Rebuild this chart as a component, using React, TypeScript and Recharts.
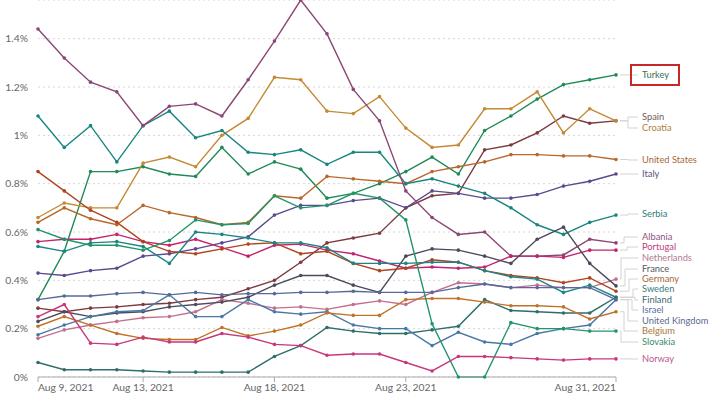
import { LineChart, Line, XAxis, YAxis, CartesianGrid } from 'recharts'

// daily values, Aug 9 – Aug 31 2021, in %
const days = [9, 10, 11, 12, 13, 14, 15, 16, 17, 18, 19, 20, 21, 22, 23, 24, 25, 26, 27, 28, 29, 30, 31]
const tickDays = [9, 13, 18, 23, 31]
const yTicks = [0, 0.2, 0.4, 0.6, 0.8, 1, 1.2, 1.4]

const turkey = [0.32, 0.52, 0.85, 0.85, 0.87, 0.84, 0.83, 0.95, 0.84, 0.89, 0.86, 0.74, 0.76, 0.8, 0.85, 0.91, 0.84, 1.02, 1.08, 1.15, 1.21, 1.23, 1.25]
const spain = [0.285, 0.27, 0.285, 0.29, 0.3, 0.305, 0.32, 0.33, 0.365, 0.4, 0.475, 0.555, 0.575, 0.595, 0.7, 0.75, 0.76, 0.94, 0.96, 1.01, 1.08, 1.05, 1.06]
const croatia = [0.66, 0.72, 0.7, 0.7, 0.885, 0.91, 0.87, 1.0, 1.07, 1.24, 1.23, 1.1, 1.09, 1.16, 1.03, 0.95, 0.96, 1.11, 1.11, 1.18, 1.01, 1.11, 1.06]
const unitedStates = [0.64, 0.7, 0.655, 0.63, 0.71, 0.68, 0.66, 0.63, 0.64, 0.75, 0.74, 0.83, 0.82, 0.81, 0.8, 0.85, 0.87, 0.89, 0.92, 0.92, 0.915, 0.915, 0.9]
const italy = [0.43, 0.42, 0.44, 0.45, 0.5, 0.51, 0.53, 0.555, 0.58, 0.67, 0.71, 0.71, 0.73, 0.74, 0.7, 0.77, 0.76, 0.74, 0.74, 0.755, 0.79, 0.81, 0.84]
const serbia = [1.08, 0.95, 1.04, 0.89, 1.04, 1.1, 0.99, 1.02, 0.93, 0.92, 0.94, 0.88, 0.93, 0.93, 0.8, 0.82, 0.79, 0.76, 0.7, 0.63, 0.59, 0.64, 0.67]
const albania = [1.44, 1.32, 1.22, 1.18, 1.04, 1.12, 1.13, 1.08, 1.23, 1.39, 1.56, 1.42, 1.19, 1.06, 0.77, 0.66, 0.59, 0.6, 0.5, 0.5, 0.505, 0.57, 0.555]
const portugal = [0.56, 0.57, 0.57, 0.59, 0.56, 0.545, 0.57, 0.535, 0.5, 0.545, 0.55, 0.525, 0.51, 0.48, 0.45, 0.455, 0.45, 0.455, 0.5, 0.5, 0.495, 0.525, 0.525]
const netherlands = [0.16, 0.195, 0.215, 0.23, 0.245, 0.25, 0.27, 0.32, 0.305, 0.285, 0.29, 0.28, 0.3, 0.315, 0.3, 0.35, 0.39, 0.385, 0.37, 0.38, 0.37, 0.37, 0.405]
const france = [0.23, 0.27, 0.25, 0.265, 0.27, 0.29, 0.3, 0.31, 0.33, 0.38, 0.42, 0.42, 0.38, 0.35, 0.5, 0.53, 0.525, 0.5, 0.47, 0.57, 0.62, 0.47, 0.377]
const germany = [0.85, 0.77, 0.69, 0.64, 0.56, 0.52, 0.51, 0.53, 0.55, 0.555, 0.51, 0.52, 0.47, 0.44, 0.45, 0.485, 0.475, 0.44, 0.42, 0.41, 0.39, 0.41, 0.355]
const sweden = [0.54, 0.52, 0.555, 0.56, 0.54, 0.47, 0.6, 0.59, 0.575, 0.555, 0.555, 0.535, 0.47, 0.47, 0.47, 0.475, 0.475, 0.44, 0.415, 0.405, 0.35, 0.38, 0.33]
const finland = [0.06, 0.03, 0.03, 0.03, 0.025, 0.02, 0.02, 0.02, 0.02, 0.085, 0.13, 0.205, 0.19, 0.18, 0.18, 0.195, 0.21, 0.32, 0.275, 0.27, 0.265, 0.265, 0.33]
const israel = [0.175, 0.215, 0.25, 0.27, 0.275, 0.34, 0.25, 0.25, 0.32, 0.27, 0.26, 0.27, 0.215, 0.2, 0.2, 0.13, 0.185, 0.145, 0.135, 0.18, 0.2, 0.215, 0.32]
const unitedKingdom = [0.32, 0.335, 0.335, 0.345, 0.35, 0.34, 0.35, 0.34, 0.345, 0.345, 0.35, 0.35, 0.355, 0.35, 0.35, 0.35, 0.37, 0.385, 0.37, 0.37, 0.37, 0.37, 0.32]
const belgium = [0.21, 0.25, 0.215, 0.18, 0.16, 0.155, 0.155, 0.205, 0.17, 0.19, 0.215, 0.265, 0.255, 0.255, 0.32, 0.325, 0.325, 0.31, 0.295, 0.295, 0.29, 0.24, 0.27]
const slovakia = [0.61, 0.57, 0.545, 0.545, 0.525, 0.565, 0.65, 0.63, 0.635, 0.75, 0.7, 0.71, 0.76, 0.74, 0.65, 0.22, 0, 0, 0.225, 0.2, 0.2, 0.19, 0.19]
const norway = [0.25, 0.3, 0.14, 0.135, 0.165, 0.145, 0.145, 0.18, 0.165, 0.135, 0.13, 0.09, 0.095, 0.095, 0.06, 0.025, 0.085, 0.085, 0.08, 0.075, 0.07, 0.075, 0.075]

const countries = ['Turkey', 'Spain', 'Croatia', 'United States', 'Italy', 'Serbia', 'Albania', 'Portugal', 'Netherlands', 'France', 'Germany', 'Sweden', 'Finland', 'Israel', 'United Kingdom', 'Belgium', 'Slovakia', 'Norway']
const values = [turkey, spain, croatia, unitedStates, italy, serbia, albania, portugal, netherlands, france, germany, sweden, finland, israel, unitedKingdom, belgium, slovakia, norway]
const colors = ['#1f8a55', '#7d3a3f', '#c48a35', '#b8682b', '#5a4a8e', '#18867f', '#8a4675', '#c2256e', '#c3708f', '#4b4b5c', '#b0441f', '#1d8585', '#2f6e6a', '#4a78a6', '#56699a', '#c07328', '#22946a', '#c8367c']
const labelColors = ['#3b6e55', '#6e5a5a', '#b0803e', '#a8693a', '#5c5383', '#2d7b78', '#8a5582', '#bf3d78', '#b27a92', '#555560', '#a8663a', '#3a7a7a', '#3e6a72', '#5a6fa0', '#5a6a90', '#a8773e', '#3a8a68', '#c0558a']

// where each end label sits (px) and where its leader line bends
const labelLayout: Record<string, { y: number; elbow: number }> = {
  Turkey: { y: 75, elbow: 628 },
  Spain: { y: 117, elbow: 628 },
  Croatia: { y: 128, elbow: 628 },
  'United States': { y: 160, elbow: 628 },
  Italy: { y: 174, elbow: 628 },
  Serbia: { y: 214, elbow: 628 },
  Albania: { y: 237, elbow: 624 },
  Portugal: { y: 247, elbow: 627 },
  Netherlands: { y: 258, elbow: 621 },
  France: { y: 269, elbow: 625 },
  Germany: { y: 279, elbow: 629 },
  Sweden: { y: 289, elbow: 633 },
  Finland: { y: 300, elbow: 635 },
  Israel: { y: 310, elbow: 632 },
  'United Kingdom': { y: 321, elbow: 628 },
  Belgium: { y: 331, elbow: 624 },
  Slovakia: { y: 342, elbow: 621 },
  Norway: { y: 359, elbow: 628 },
}

const data = days.map((day, i) => {
  const row: Record<string, number> = { day }
  countries.forEach((c, k) => { row[c] = values[k][i] })
  return row
})

const FONT = 'Lato, "Noto Sans", sans-serif'

function DateTick(props: any) {
  const { x, y, payload } = props
  const v = payload?.value
  const anchor = v === tickDays[0] ? 'start' : v === tickDays[tickDays.length - 1] ? 'end' : 'middle'
  return (
    <text x={x} y={y} dy="0.71em" textAnchor={anchor} fontSize={10.3} fill="#666" fontFamily={FONT}>
      {`Aug ${v}, 2021`}
    </text>
  )
}

function pctLabel(v: number) {
  return `${v}%`
}

// label at the end of each line, with a grey leader line
const makeEndLabel = (name: string, color: string) => (props: any) => {
  const { index } = props
  if (index !== days.length - 1) return null
  const x = props.x ?? props.viewBox?.x
  const y = props.y ?? props.viewBox?.y
  const { y: ly, elbow } = labelLayout[name]
  return (
    <g key={name}>
      <polyline
        points={`${x + 4},${y} ${elbow},${y} ${elbow},${ly} 638,${ly}`}
        fill="none"
        stroke="#d2d2d2"
        strokeWidth={1}
      />
      <text x={642} y={ly} dy="0.35em" fontSize={9.3} fill={color} fontFamily={FONT}>
        {name}
      </text>
      {name === 'Turkey' && (
        <rect x={631} y={65} width={48} height={20} fill="none" stroke="#c62828" strokeWidth={2} />
      )}
    </g>
  )
}

export default function App() {
  return (
    <div style={{ position: 'absolute', left: 0, top: 0, background: '#fff' }}>
      <LineChart width={714} height={401} data={data} margin={{ top: 0, right: 98, left: 0, bottom: 0 }}>
        <CartesianGrid vertical={false} stroke="#d6d6d6" strokeDasharray="2 3" />
        <XAxis
          dataKey="day"
          type="number"
          domain={[9, 31]}
          ticks={tickDays}
          height={24}
          tick={<DateTick />}
          tickSize={5}
          tickMargin={2}
          stroke="#aaa"
        />
        <YAxis
          domain={[0, 1.56]}
          ticks={yTicks}
          width={38}
          tickFormatter={pctLabel}
          tick={{ fontSize: 10.3, fill: '#666', fontFamily: FONT }}
          tickLine={false}
          axisLine={false}
          tickMargin={4}
        />
        {countries.map((c, k) => (
          <Line
            key={c}
            dataKey={c}
            stroke={colors[k]}
            strokeWidth={1.4}
            dot={{ r: 1.8, fill: colors[k], stroke: colors[k], strokeWidth: 0 }}
            label={makeEndLabel(c, labelColors[k])}
            isAnimationActive={false}
          />
        ))}
      </LineChart>
    </div>
  )
}
